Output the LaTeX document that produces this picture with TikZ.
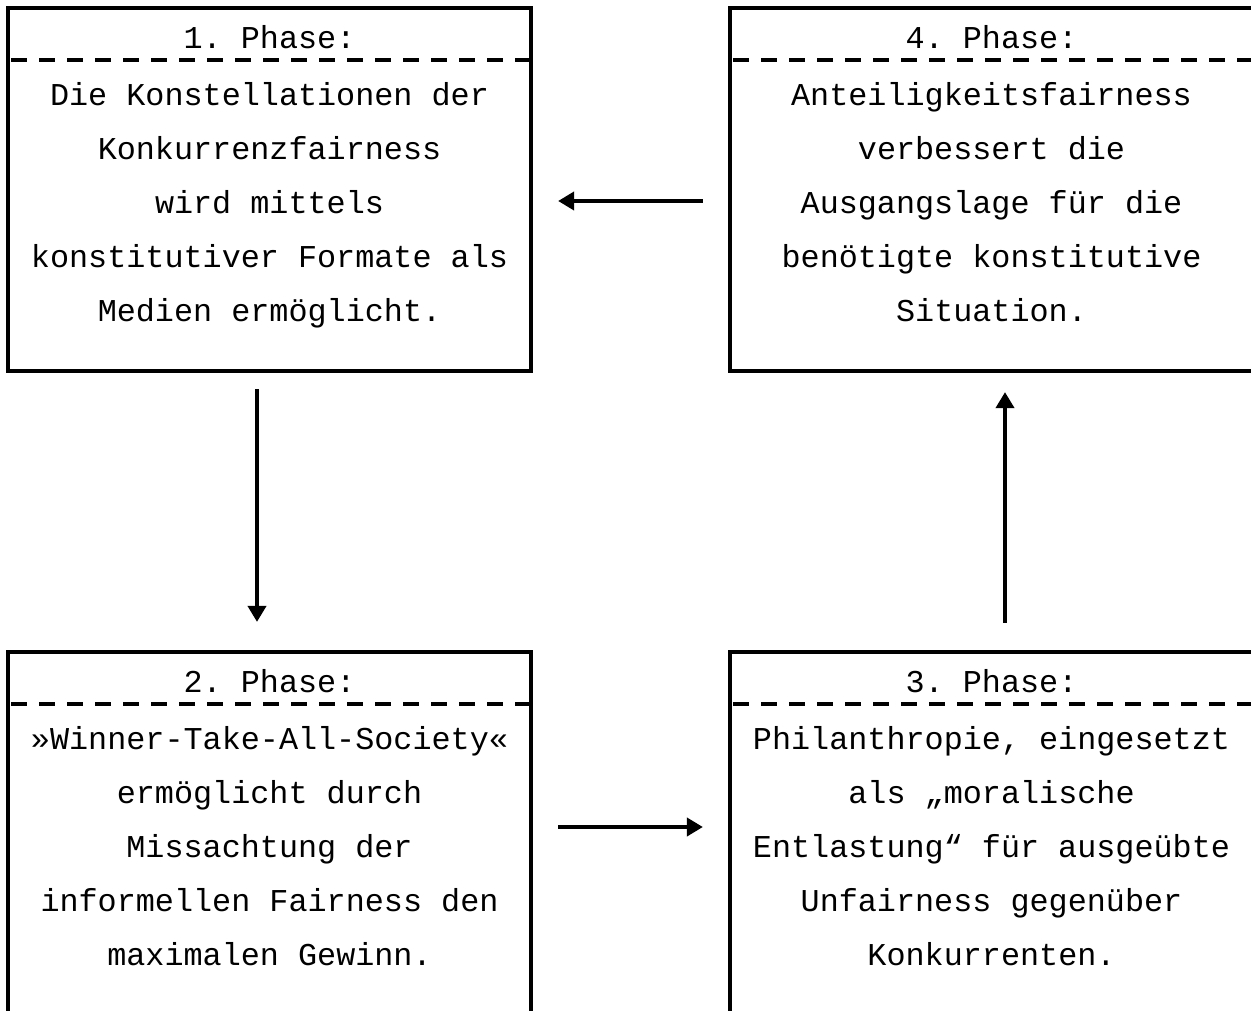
\documentclass[tikz,border=0pt]{standalone}
\usepackage{fontspec}
\setmonofont{Liberation Mono}
\usetikzlibrary{arrows.meta}
\begin{document}
\begin{tikzpicture}[x=1pt,y=-1pt,
  box/.style={draw, line width=4.2pt, minimum width=523pt, minimum height=363pt, inner sep=0pt},
  head/.style={font=\ttfamily\fontsize{31.8}{54}\selectfont, inner sep=0pt, anchor=base},
  body/.style={font=\ttfamily\fontsize{31.8}{54}\selectfont, align=center, inner sep=0pt, anchor=north},
  sep/.style={line width=3.8pt, dash pattern=on 16pt off 12pt},
  arr/.style={line width=3.8pt, -{Triangle[length=16pt,width=18pt]}}]
\useasboundingbox (0,0) rectangle (1251,1011);
\node[box] (b1) at (269.5,189.5) {};
\node[box] (b4) at (991.5,189.5) {};
\node[box] (b2) at (269.5,833.5) {};
\node[box] (b3) at (991.5,833.5) {};
% separators
\draw[sep] (11,60) -- (531,60);
\draw[sep] (733,60) -- (1253,60);
\draw[sep] (11,704) -- (531,704);
\draw[sep] (733,704) -- (1253,704);
% headers
\node[head] (h1) at (269.5,48.5) {1. Phase:};
\node[head] (h4) at (991.5,48.5) {4. Phase:};
\node[head] (h2) at (269.5,692.5) {2. Phase:};
\node[head] (h3) at (991.5,692.5) {3. Phase:};
% bodies (first baseline at 105 / 749; \strut height 37.8)
\node[body] (t1) at (269.5,67.2) {\strut Die Konstellationen der\\Konkurrenzfairness\\wird mittels\\konstitutiver Formate als\\Medien ermöglicht.};
\node[body] (t4) at (991.5,67.2) {\strut Anteiligkeitsfairness\\verbessert die\\Ausgangslage für die\\benötigte konstitutive\\Situation.};
\node[body] (t2) at (269.5,711.2) {\strut »Winner-Take-All-Society«\\ermöglicht durch\\Missachtung der\\informellen Fairness den\\maximalen Gewinn.};
\node[body] (t3) at (991.5,711.2) {\strut Philanthropie, eingesetzt\\als „moralische\\Entlastung“ für ausgeübte\\Unfairness gegenüber\\Konkurrenten.};
% arrows
\coordinate (ylow) at (0,827);
\draw[arr, shorten <=25pt, shorten >=25pt] ([yshift=-11.5pt]b4.west) -- ([yshift=-11.5pt]b1.east);
\draw[arr, shorten <=16pt, shorten >=28pt] ([xshift=-12.5pt]b1.south) -- ([xshift=-12.5pt]b2.north);
\draw[arr, shorten <=25pt, shorten >=25pt] (b2.east |- ylow) -- (b3.west |- ylow);
\draw[arr, shorten <=27pt, shorten >=19pt] ([xshift=13.5pt]b3.north) -- ([xshift=13.5pt]b4.south);
\end{tikzpicture}
\end{document}
